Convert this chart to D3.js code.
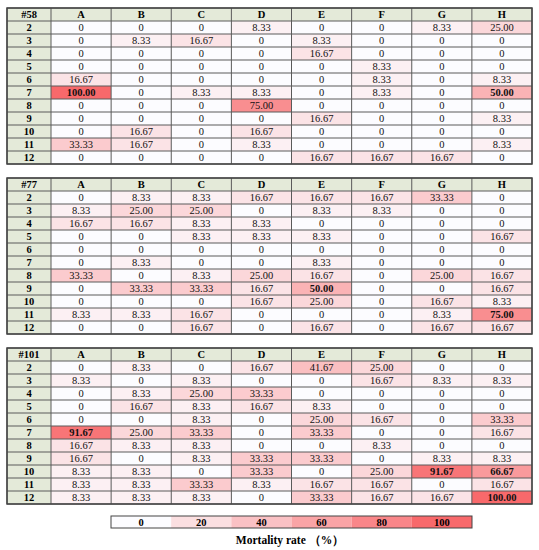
<!DOCTYPE html>
<html>
<head>
<meta charset="utf-8">
<script src="https://cdn.jsdelivr.net/npm/d3@7"></script>
<style>
  body { margin: 0; background: #fff; }
  svg text { font-family: "Liberation Serif", "Times New Roman", serif; }
</style>
</head>
<body>
<div id="chart"></div>
<script>
// column and row labels
const columns = ["A", "B", "C", "D", "E", "F", "G", "H"];
const rows = ["2", "3", "4", "5", "6", "7", "8", "9", "10", "11", "12"];

// mortality rate (%) per line, rows 2..12, columns A..H
const line58 = [
    [0, 0, 0, 8.33, 0, 0, 8.33, 25.00],
    [0, 8.33, 16.67, 0, 8.33, 0, 0, 0],
    [0, 0, 0, 0, 16.67, 0, 0, 0],
    [0, 0, 0, 0, 0, 8.33, 0, 0],
    [16.67, 0, 0, 0, 0, 8.33, 0, 8.33],
    [100.00, 0, 8.33, 8.33, 0, 8.33, 0, 50.00],
    [0, 0, 0, 75.00, 0, 0, 0, 0],
    [0, 0, 0, 0, 16.67, 0, 0, 8.33],
    [0, 16.67, 0, 16.67, 0, 0, 0, 0],
    [33.33, 16.67, 0, 8.33, 0, 0, 0, 8.33],
    [0, 0, 0, 0, 16.67, 16.67, 16.67, 0]
];
const line77 = [
    [0, 8.33, 8.33, 16.67, 16.67, 16.67, 33.33, 0],
    [8.33, 25.00, 25.00, 0, 8.33, 8.33, 0, 0],
    [16.67, 16.67, 8.33, 8.33, 0, 0, 0, 0],
    [0, 0, 8.33, 8.33, 8.33, 0, 0, 16.67],
    [0, 0, 0, 0, 0, 0, 0, 0],
    [0, 8.33, 0, 0, 8.33, 0, 0, 0],
    [33.33, 0, 8.33, 25.00, 16.67, 0, 25.00, 16.67],
    [0, 33.33, 33.33, 16.67, 50.00, 0, 0, 16.67],
    [0, 0, 0, 16.67, 25.00, 0, 16.67, 8.33],
    [8.33, 8.33, 16.67, 0, 0, 0, 8.33, 75.00],
    [0, 0, 16.67, 0, 16.67, 0, 16.67, 16.67]
];
const line101 = [
    [0, 8.33, 0, 16.67, 41.67, 25.00, 0, 0],
    [8.33, 0, 8.33, 0, 0, 16.67, 8.33, 8.33],
    [0, 8.33, 25.00, 33.33, 0, 0, 0, 0],
    [0, 16.67, 8.33, 16.67, 8.33, 0, 0, 0],
    [0, 0, 8.33, 0, 25.00, 16.67, 0, 33.33],
    [91.67, 25.00, 33.33, 0, 33.33, 0, 0, 16.67],
    [16.67, 8.33, 8.33, 0, 0, 8.33, 0, 0],
    [16.67, 0, 8.33, 33.33, 33.33, 0, 8.33, 8.33],
    [8.33, 8.33, 0, 33.33, 0, 25.00, 91.67, 66.67],
    [8.33, 8.33, 33.33, 8.33, 16.67, 16.67, 0, 16.67],
    [8.33, 8.33, 8.33, 0, 33.33, 16.67, 16.67, 100.00]
];
// cells printed in bold (row label + column)
const bold58 = ["7A", "7H"];
const bold77 = ["9E", "11H"];
const bold101 = ["7A", "10G", "10H", "12H"];

const legendTicks = [0, 20, 40, 60, 80, 100];
const legendTitle = "Mortality rate （%）";

const tables = [
    {name: "#58", values: line58, bold: bold58},
    {name: "#77", values: line77, bold: bold77},
    {name: "#101", values: line101, bold: bold101}
];

const width = 539;
const height = 550;

const svg = d3.select("#chart")
    .append("svg")
    .attr("width", width)
    .attr("height", height);

// Excel style 2-colour scale
const color = d3.scaleLinear()
    .domain([0, 100])
    .range(["#fcfcff", "#f8696b"])
    .interpolate(d3.interpolateRgb);

const x = d3.scaleBand().domain(columns).range([51, 532]);
const labelX = [7, 51];
const tableTops = [8, 178, 348];
const rowH = 13;
const headFill = "#e4ead9";
const lineColor = "#5a5a5a";
const fs = 10.5;

const fmt = v => v === 0 ? "0" : v.toFixed(2);

tables.forEach((t, ti) => {
    const top = tableTops[ti];
    const y = d3.scaleBand()
        .domain(["head"].concat(rows))
        .range([top, top + rowH * 12]);

    const g = svg.append("g");

    // header row
    g.append("rect")
        .attr("x", labelX[0]).attr("y", y("head"))
        .attr("width", labelX[1] - labelX[0]).attr("height", y.bandwidth())
        .attr("fill", headFill);
    g.selectAll("rect.colhead")
        .data(columns)
        .enter().append("rect")
        .attr("class", "colhead")
        .attr("x", d => x(d)).attr("y", y("head"))
        .attr("width", x.bandwidth()).attr("height", y.bandwidth())
        .attr("fill", headFill);

    // row labels
    g.selectAll("rect.rowhead")
        .data(rows)
        .enter().append("rect")
        .attr("class", "rowhead")
        .attr("x", labelX[0]).attr("y", d => y(d))
        .attr("width", labelX[1] - labelX[0]).attr("height", y.bandwidth())
        .attr("fill", headFill);

    const cells = [];
    t.values.forEach((row, ri) => {
        row.forEach((v, ci) => {
            cells.push({row: rows[ri], col: columns[ci], value: v,
                bold: t.bold.includes(rows[ri] + columns[ci])});
        });
    });

    g.selectAll("rect.cell")
        .data(cells)
        .enter().append("rect")
        .attr("class", "cell")
        .attr("x", d => x(d.col)).attr("y", d => y(d.row))
        .attr("width", x.bandwidth()).attr("height", y.bandwidth())
        .attr("fill", d => color(d.value));

    // grid lines
    const xs = [labelX[0], labelX[1]].concat(columns.slice(1).map(c => x(c))).concat([x.range()[1]]);
    g.selectAll("line.v")
        .data(xs)
        .enter().append("line")
        .attr("x1", d => d).attr("x2", d => d)
        .attr("y1", top).attr("y2", top + rowH * 12)
        .attr("stroke", lineColor).attr("stroke-width", 1);
    const ys = y.domain().map(d => y(d)).concat([top + rowH * 12]);
    g.selectAll("line.h")
        .data(ys)
        .enter().append("line")
        .attr("x1", labelX[0]).attr("x2", x.range()[1])
        .attr("y1", d => d).attr("y2", d => d)
        .attr("stroke", lineColor).attr("stroke-width", 1);
    g.append("rect")
        .attr("x", labelX[0]).attr("y", top)
        .attr("width", x.range()[1] - labelX[0]).attr("height", rowH * 12)
        .attr("fill", "none").attr("stroke", "#444").attr("stroke-width", 1.5);

    // texts
    g.append("text")
        .attr("x", (labelX[0] + labelX[1]) / 2).attr("y", y("head") + y.bandwidth() / 2)
        .attr("text-anchor", "middle").attr("dy", "0.35em")
        .attr("font-size", fs).attr("font-weight", "bold")
        .text(t.name);
    g.selectAll("text.colhead")
        .data(columns)
        .enter().append("text")
        .attr("class", "colhead")
        .attr("x", d => x(d) + x.bandwidth() / 2).attr("y", y("head") + y.bandwidth() / 2)
        .attr("text-anchor", "middle").attr("dy", "0.35em")
        .attr("font-size", fs).attr("font-weight", "bold")
        .text(d => d);
    g.selectAll("text.rowhead")
        .data(rows)
        .enter().append("text")
        .attr("class", "rowhead")
        .attr("x", (labelX[0] + labelX[1]) / 2).attr("y", d => y(d) + y.bandwidth() / 2)
        .attr("text-anchor", "middle").attr("dy", "0.35em")
        .attr("font-size", fs).attr("font-weight", "bold")
        .text(d => d);
    g.selectAll("text.cell")
        .data(cells)
        .enter().append("text")
        .attr("class", "cell")
        .attr("x", d => x(d.col) + x.bandwidth() / 2).attr("y", d => y(d.row) + y.bandwidth() / 2)
        .attr("text-anchor", "middle").attr("dy", "0.35em")
        .attr("font-size", fs)
        .attr("font-weight", d => d.bold ? "bold" : "normal")
        .attr("fill", "#111")
        .text(d => fmt(d.value));
});

// legend
const lx = d3.scaleBand().domain(legendTicks).range([111, 472]);
const legendY = 516;
const legendH = 12;
const lg = svg.append("g");
lg.selectAll("rect")
    .data(legendTicks)
    .enter().append("rect")
    .attr("x", d => lx(d)).attr("y", legendY)
    .attr("width", lx.bandwidth()).attr("height", legendH)
    .attr("fill", d => color(d));
lg.append("rect")
    .attr("x", lx.range()[0]).attr("y", legendY)
    .attr("width", lx.range()[1] - lx.range()[0]).attr("height", legendH)
    .attr("fill", "none").attr("stroke", "#444").attr("stroke-width", 1);
lg.selectAll("text.tick")
    .data(legendTicks)
    .enter().append("text")
    .attr("class", "tick")
    .attr("x", d => lx(d) + lx.bandwidth() / 2).attr("y", legendY + legendH / 2)
    .attr("text-anchor", "middle").attr("dy", "0.35em")
    .attr("font-size", fs).attr("font-weight", "bold")
    .text(d => d);
lg.append("text")
    .attr("x", 290).attr("y", 540)
    .attr("text-anchor", "middle").attr("dy", "0.35em")
    .attr("font-size", 11.5).attr("font-weight", "bold")
    .text(legendTitle);
</script>
</body>
</html>
